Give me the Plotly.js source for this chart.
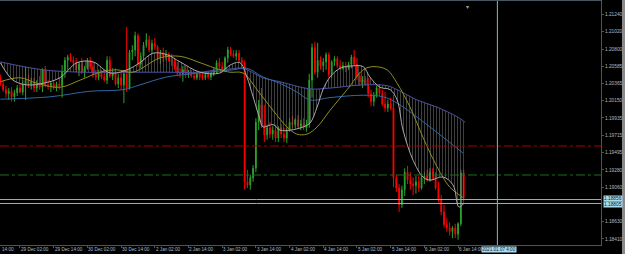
<!DOCTYPE html>
<html>
<head>
<meta charset="utf-8">
<script src="https://cdn.plot.ly/plotly-3.0.1.min.js"></script>
<style>html,body{margin:0;padding:0;background:#000;}#chart{width:625px;height:254px;}</style>
</head>
<body>
<div id="chart"></div>
<script>
// ---- hourly candles (bar index 0 = 28 Dec 19:00) ----
const open = [1.2044,1.2036,1.2029,1.2024,1.2027,1.2020,1.2025,1.2031,1.2026,1.2036,
1.2041,1.2035,1.2039,1.2031,1.2036,1.2032,1.2054,1.2035,1.2034,1.2037,
1.2031,1.2036,1.2034,1.2051,1.2066,1.2070,1.2066,1.2063,1.2054,1.2061,
1.2051,1.2056,1.2065,1.2058,1.2048,1.2045,1.2050,1.2045,1.2041,1.2066,
1.2046,1.2050,1.2036,1.2044,1.2035,1.2049,1.2031,1.2076,1.2079,1.2097,
1.2061,1.2071,1.2085,1.2092,1.2079,1.2087,1.2083,1.2069,1.2075,1.2071,
1.2074,1.2066,1.2064,1.2058,1.2050,1.2049,1.2054,1.2048,1.2050,1.2046,
1.2044,1.2049,1.2045,1.2044,1.2048,1.2045,1.2049,1.2054,1.2063,1.2058,
1.2054,1.2069,1.2079,1.2074,1.2071,1.2075,1.2066,1.2063,1.1913,1.1909,
1.1918,1.1930,1.1988,1.2010,1.1985,1.1972,1.1981,1.1973,1.1978,1.1968,
1.1981,1.1973,1.1968,1.1978,1.1988,1.1985,1.1991,1.1983,1.1986,1.1981,
1.1985,1.2041,1.2082,1.2051,1.2066,1.2059,1.2064,1.2073,1.2048,1.2064,
1.2068,1.2059,1.2056,1.2059,1.2056,1.2061,1.2070,1.2061,1.2046,1.2039,
1.2041,1.2036,1.2024,1.2014,1.2022,1.2031,1.2024,1.2011,1.2006,1.2011,
1.2006,1.1918,1.1905,1.1884,1.1903,1.1925,1.1915,1.1910,1.1908,1.1913,
1.1905,1.1918,1.1920,1.1915,1.1925,1.1920,1.1905,1.1890,1.1875,1.1859,
1.1855,1.1850,1.1855,1.1847,1.1860,1.1924];
const high = [1.2048,1.2041,1.2034,1.2031,1.2032,1.2029,1.2035,1.2036,1.2041,1.2058,
1.2048,1.2044,1.2044,1.2041,1.2046,1.2056,1.2059,1.2041,1.2039,1.2041,
1.2039,1.2044,1.2060,1.2070,1.2073,1.2075,1.2071,1.2069,1.2064,1.2069,
1.2059,1.2069,1.2070,1.2064,1.2054,1.2054,1.2054,1.2054,1.2071,1.2071,
1.2056,1.2056,1.2049,1.2051,1.2054,1.2108,1.2079,1.2085,1.2102,1.2100,
1.2076,1.2089,1.2100,1.2097,1.2092,1.2094,1.2085,1.2079,1.2082,1.2079,
1.2076,1.2074,1.2069,1.2064,1.2056,1.2059,1.2059,1.2054,1.2054,1.2051,
1.2051,1.2051,1.2050,1.2050,1.2051,1.2051,1.2056,1.2066,1.2069,1.2064,
1.2071,1.2083,1.2083,1.2079,1.2079,1.2079,1.2070,1.2066,1.1928,1.1922,
1.1934,1.1993,1.2016,1.2031,1.2010,1.1985,1.1988,1.1983,1.1985,1.1983,
1.1986,1.1981,1.1981,1.1993,1.1996,1.1993,1.1997,1.1991,1.1993,1.1991,
1.2049,1.2087,1.2089,1.2088,1.2071,1.2069,1.2076,1.2076,1.2066,1.2071,
1.2071,1.2066,1.2064,1.2064,1.2064,1.2073,1.2079,1.2069,1.2051,1.2046,
1.2046,1.2044,1.2029,1.2026,1.2034,1.2036,1.2029,1.2026,1.2016,1.2019,
1.2022,1.1922,1.1910,1.1908,1.1930,1.1933,1.1925,1.1918,1.1920,1.1920,
1.1923,1.1925,1.1928,1.1930,1.1930,1.1925,1.1913,1.1896,1.1884,1.1867,
1.1862,1.1857,1.1860,1.1862,1.1928,1.1928];
const low = [1.2034,1.2026,1.2019,1.2016,1.2014,1.2014,1.2021,1.2024,1.2022,1.2016,
1.2031,1.2029,1.2026,1.2026,1.2029,1.2026,1.2032,1.2029,1.2026,1.2029,
1.2027,1.2029,1.2019,1.2044,1.2054,1.2064,1.2058,1.2051,1.2046,1.2049,
1.2044,1.2054,1.2054,1.2044,1.2041,1.2041,1.2042,1.2039,1.2036,1.2044,
1.2041,1.2034,1.2031,1.2029,1.2012,1.2026,1.2029,1.2066,1.2071,1.2058,
1.2056,1.2066,1.2082,1.2076,1.2074,1.2079,1.2066,1.2061,1.2064,1.2066,
1.2064,1.2059,1.2054,1.2046,1.2044,1.2039,1.2044,1.2044,1.2044,1.2041,
1.2041,1.2041,1.2041,1.2041,1.2042,1.2041,1.2046,1.2049,1.2054,1.2051,
1.2051,1.2063,1.2071,1.2069,1.2066,1.2063,1.2059,1.1903,1.1905,1.1903,
1.1913,1.1925,1.1978,1.1981,1.1963,1.1966,1.1968,1.1966,1.1963,1.1963,
1.1968,1.1963,1.1962,1.1976,1.1981,1.1981,1.1981,1.1978,1.1978,1.1976,
1.1981,1.2019,1.2048,1.2044,1.2054,1.2051,1.2054,1.2044,1.2044,1.2059,
1.2056,1.2054,1.2054,1.2051,1.2054,1.2056,1.2059,1.2041,1.2034,1.2031,
1.2034,1.2019,1.2008,1.2008,1.2019,1.2021,1.2008,1.2001,1.2001,1.2003,
1.1906,1.1900,1.1875,1.1880,1.1895,1.1910,1.1903,1.1896,1.1898,1.1900,
1.1903,1.1910,1.1913,1.1913,1.1915,1.1903,1.1887,1.1871,1.1855,1.1850,
1.1845,1.1842,1.1842,1.1840,1.1857,1.1890];
const close = [1.2036,1.2029,1.2024,1.2027,1.2020,1.2025,1.2031,1.2026,1.2036,1.2041,
1.2035,1.2039,1.2031,1.2036,1.2032,1.2054,1.2035,1.2034,1.2037,1.2031,
1.2036,1.2034,1.2051,1.2066,1.2070,1.2066,1.2063,1.2054,1.2061,1.2051,
1.2056,1.2065,1.2058,1.2048,1.2045,1.2050,1.2045,1.2041,1.2066,1.2046,
1.2050,1.2036,1.2044,1.2035,1.2049,1.2031,1.2076,1.2079,1.2097,1.2061,
1.2071,1.2085,1.2092,1.2079,1.2087,1.2083,1.2069,1.2075,1.2071,1.2074,
1.2066,1.2064,1.2058,1.2050,1.2049,1.2054,1.2048,1.2050,1.2046,1.2044,
1.2049,1.2045,1.2044,1.2048,1.2045,1.2049,1.2054,1.2063,1.2058,1.2054,
1.2069,1.2079,1.2074,1.2071,1.2075,1.2066,1.2063,1.1913,1.1909,1.1918,
1.1930,1.1988,1.2010,1.1985,1.1972,1.1981,1.1973,1.1978,1.1968,1.1981,
1.1973,1.1968,1.1978,1.1988,1.1985,1.1991,1.1983,1.1986,1.1981,1.1985,
1.2041,1.2082,1.2051,1.2066,1.2059,1.2064,1.2073,1.2048,1.2064,1.2068,
1.2059,1.2056,1.2059,1.2056,1.2061,1.2070,1.2061,1.2046,1.2039,1.2041,
1.2036,1.2024,1.2014,1.2022,1.2031,1.2024,1.2011,1.2006,1.2011,1.2006,
1.1918,1.1905,1.1884,1.1903,1.1925,1.1915,1.1910,1.1908,1.1913,1.1905,
1.1918,1.1920,1.1915,1.1925,1.1920,1.1905,1.1890,1.1875,1.1859,1.1855,
1.1850,1.1855,1.1847,1.1860,1.1924,1.1893];

// ---- moving-average lines, read at sample bars ----
const fastX = [0,4.5,9.5,15.2,21.2,27.3,33,39.1,45.1,49.7,54.4,59.4,64,71.1,78.2,81.8,85.3,87.8,90,92.5,93.5,97.1,99.6,103.2,107.8,110.3,112.8,114.9,117.4,121,125.6,129.2,131.6,135.2,138.8,141.3,143.4,147,150.5,153,157.6,161.2,163.3,165.1];
const fastY = [1.2063,1.2041,1.2035,1.2037,1.2044,1.2063,1.2064,1.2050,1.2054,1.2063,1.2075,1.2073,1.2064,1.2051,1.2050,1.2060,1.2063,1.2045,1.2020,1.1991,1.1982,1.1985,1.1978,1.1978,1.1982,1.1987,1.2007,1.2029,1.2045,1.2056,1.2059,1.2058,1.2045,1.2032,1.2029,1.2016,1.1978,1.1940,1.1919,1.1915,1.1919,1.1909,1.1881,1.1886];
const midX = [0,7,13.1,21.2,28.4,35.5,41.5,47.2,56.9,64,71.1,78.2,81.8,86.4,91.4,97.1,102.1,105.6,109.2,112.8,117.4,123.5,129.2,132.7,137.7,141.3,145.9,150.5,155.5,160.1,164.8];
const midY = [1.2039,1.2044,1.2037,1.2032,1.2041,1.2051,1.2054,1.2051,1.2069,1.2071,1.2063,1.2054,1.2051,1.2050,1.2029,1.2003,1.1982,1.1973,1.1973,1.1982,1.2003,1.2029,1.2054,1.2058,1.2054,1.2037,1.2007,1.1969,1.1932,1.1906,1.1893];
const slowX = [0,17.7,31.9,43.7,49.7,59.3,71.1,82.9,87.8,93.5,99.6,105.6,110.3,117.4,129.2,136.3,141.3,153,164.8];
const slowY = [1.2017,1.2020,1.2027,1.2029,1.2035,1.2045,1.2050,1.2054,1.2056,1.2045,1.2037,1.2026,1.2016,1.2019,1.2022,1.2020,1.2012,1.1982,1.1949];
const longX = [0,15.2,29.4,47.2,59.3,71.1,77.2,81.8,86.4,93.5,99.6,110.3,117.4,129.2,137.7,141.3,148.4,155.5,162.6,165.5];
const longY = [1.2064,1.2054,1.2051,1.2051,1.2051,1.2051,1.2054,1.2055,1.2056,1.2044,1.2039,1.2030,1.2031,1.2035,1.2034,1.2029,1.2016,1.2007,1.1995,1.1988];

// ---- axes / levels ----
const timeTickBars = [7,19,31,43,55,67,79,91,103,115,127,139,151,163];
const timeTickText = ["29 Dec 02:00","29 Dec 14:00","30 Dec 02:00","30 Dec 14:00","2 Jan 02:00","2 Jan 14:00","3 Jan 02:00","3 Jan 14:00","4 Jan 02:00","4 Jan 14:00","5 Jan 02:00","5 Jan 14:00","6 Jan 02:00","6 Jan 14:00"];
const priceTicks = [1.21240,1.21020,1.20800,1.20585,1.20365,1.20150,1.19935,1.19715,1.19495,1.19280,1.19060,1.18630,1.18410];
const priceTickText = ["1.21240","1.21020","1.20800","1.20585","1.20365","1.20150","1.19935","1.19715","1.19495","1.19280","1.19060","1.18630","1.18410"];
const redLevel = 1.19580;
const greenLevel = 1.19215;
const crossBar = 177;
const crossPrices = [1.18906, 1.18856];
const crossPriceText = ["1.18856", "1.18805"];
const crossTimeText = "2021.01.07 4:00";

const bars = open.map((_, i) => i);
const axisCol = '#46555f';
const txtCol = '#a9bccb';
const fam = 'Liberation Sans, Arial, sans-serif';
const fnt = {family: fam, size: 4.6, color: txtCol};
const yfnt = {family: fam, size: 4.8, color: txtCol};

const traces = [
  {type:'scatter', mode:'lines', x: longX, y: longY, line:{width:0, shape:'spline'}, hoverinfo:'skip', showlegend:false},
  {type:'scatter', mode:'lines', x: fastX, y: fastY, line:{width:0, shape:'spline'}, fill:'tonexty',
   fillcolor:'rgba(0,0,0,0)',
   fillpattern:{shape:'|', fgcolor:'#6a6a6a', bgcolor:'rgba(0,0,0,0)', size:3, solidity:0.2},
   hoverinfo:'skip', showlegend:false},
  {type:'candlestick', x: bars, open: open, high: high, low: low, close: close,
   increasing:{line:{color:'#2aa52a', width:1}, fillcolor:'#2aa52a'},
   decreasing:{line:{color:'#ff0000', width:1}, fillcolor:'#ff0000'},
   whiskerwidth:0, hoverinfo:'skip', showlegend:false},
  {type:'scatter', mode:'lines', x: longX, y: longY, line:{color:'#5050a4', width:1, shape:'spline'}, hoverinfo:'skip', showlegend:false},
  {type:'scatter', mode:'lines', x: slowX, y: slowY, line:{color:'#2f69a3', width:1, shape:'spline'}, hoverinfo:'skip', showlegend:false},
  {type:'scatter', mode:'lines', x: midX, y: midY, line:{color:'#8e8e20', width:1, shape:'spline'}, hoverinfo:'skip', showlegend:false},
  {type:'scatter', mode:'lines', x: fastX, y: fastY, line:{color:'#aaaaaa', width:1, shape:'spline'}, hoverinfo:'skip', showlegend:false}
];

const shapes = [
  {type:'line', xref:'paper', x0:0, x1:1, yref:'y', y0:redLevel, y1:redLevel, line:{color:'#a80000', width:1, dash:'dashdot'}},
  {type:'line', xref:'paper', x0:0, x1:1, yref:'y', y0:greenLevel, y1:greenLevel, line:{color:'#1f6e1f', width:1, dash:'dashdot'}},
  {type:'line', xref:'paper', x0:0, x1:1, yref:'y', y0:crossPrices[0], y1:crossPrices[0], line:{color:'#8fb2c4', width:1}},
  {type:'line', xref:'paper', x0:0, x1:1, yref:'y', y0:crossPrices[1], y1:crossPrices[1], line:{color:'#8fb2c4', width:1}},
  {type:'line', xref:'x', x0:crossBar, x1:crossBar, yref:'paper', y0:0, y1:1, line:{color:'#8fb2c4', width:1}},
  {type:'rect', layer:'below', xref:'paper', x0:1.0349, x1:1.06, yref:'paper', y0:-0.1, y1:1.1, fillcolor:'#8a8a8a', line:{width:0}}
];

const annotations = [
  {xref:'paper', x:1.003, yref:'y', y:crossPrices[0] + 0.00008, text:crossPriceText[0], showarrow:false, xanchor:'left', yanchor:'middle',
   font:{family:fam, size:4.8, color:'#0a2030'}, bgcolor:'#a8daf2', borderpad:0},
  {xref:'paper', x:1.003, yref:'y', y:crossPrices[1] - 0.00008, text:crossPriceText[1], showarrow:false, xanchor:'left', yanchor:'middle',
   font:{family:fam, size:4.8, color:'#0a2030'}, bgcolor:'#a8daf2', borderpad:0},
  {xref:'x', x:crossBar + 0.4, yref:'paper', y:-0.018, text:crossTimeText, showarrow:false, xanchor:'center', yanchor:'middle',
   font:{family:fam, size:4.6, color:'#0a2030'}, bgcolor:'#a8daf2', borderpad:0},
  {xref:'paper', x:0, yref:'paper', y:-0.018, text:'14:00', showarrow:false, xanchor:'left', yanchor:'middle', font:fnt},
  {xref:'x', x:166.5, yref:'paper', y:1, text:'\u25BE', showarrow:false, xanchor:'center', yanchor:'top', font:{size:6, color:'#9aa6ae'}}
];
timeTickBars.forEach((b, k) => {
  annotations.push({xref:'x', x:b, yref:'paper', y:-0.018, text:timeTickText[k], showarrow:false,
    xanchor:'left', yanchor:'middle', font:fnt, borderpad:0});
});

const layout = {
  width:625, height:254,
  margin:{l:0, r:24, t:1, b:9, pad:0},
  paper_bgcolor:'#000000', plot_bgcolor:'#000000',
  showlegend:false, hovermode:false, boxgap:0.6,
  xaxis:{range:[-0.12, 213.9], showgrid:false, zeroline:false, showline:true, mirror:true, linecolor:axisCol, linewidth:1,
    tickmode:'array', tickvals:timeTickBars, ticks:'outside', ticklen:2, tickcolor:axisCol,
    showticklabels:false, rangeslider:{visible:false}, fixedrange:true},
  yaxis:{range:[1.18333, 1.21407], side:'right', showgrid:false, zeroline:false, showline:true, linecolor:axisCol, linewidth:1,
    tickmode:'array', tickvals:priceTicks, ticktext:priceTickText, ticks:'outside', ticklen:2, tickcolor:axisCol,
    tickfont:yfnt, fixedrange:true},
  shapes:shapes, annotations:annotations
};

Plotly.newPlot('chart', traces, layout, {staticPlot:true, displayModeBar:false});
</script>
</body>
</html>
